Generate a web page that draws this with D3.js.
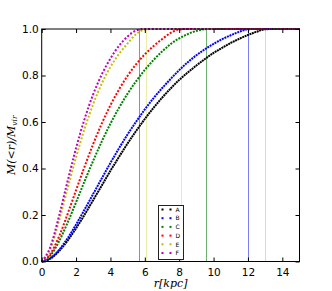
<!DOCTYPE html>
<html><head><meta charset="utf-8">
<script src="https://cdn.jsdelivr.net/npm/d3@7"></script>
<style>body{margin:0;background:#fff}svg{display:block}</style>
</head><body>
<script>
// radius grid (kpc)
const radii = [0,0.5,1,1.5,2,2.5,3,3.5,4,4.5,5,5.5,6,6.5,7,7.5,8,8.5,9,9.5,10,10.5,11,11.5,12,12.5,13,13.5,14,14.5,15];
const seriesNames = ["A","B","C","D","E","F"];
const seriesColors = ["#000000","#0000ff","#008000","#ff0000","#bfbf00","#bf00bf"];
const valsA = [0,0.012,0.044,0.089,0.143,0.202,0.265,0.327,0.390,0.450,0.508,0.562,0.613,0.660,0.704,0.744,0.781,0.813,0.843,0.871,0.897,0.919,0.940,0.958,0.974,0.988,0.999,1,1,1,1];
const valsB = [0,0.014,0.049,0.099,0.159,0.224,0.291,0.358,0.424,0.487,0.547,0.602,0.654,0.702,0.745,0.785,0.823,0.857,0.887,0.913,0.936,0.956,0.973,0.988,0.999,1,1,1,1,1,1];
const valsC = [0,0.025,0.085,0.166,0.255,0.346,0.434,0.517,0.593,0.661,0.722,0.776,0.824,0.866,0.903,0.935,0.960,0.978,0.992,0.999,1,1,1,1,1,1,1,1,1,1,1];
const valsD = [0,0.032,0.106,0.203,0.307,0.409,0.506,0.594,0.672,0.740,0.799,0.849,0.891,0.926,0.956,0.983,0.998,1,1,1,1,1,1,1,1,1,1,1,1,1,1];
const valsE = [0,0.054,0.173,0.312,0.449,0.572,0.678,0.766,0.837,0.893,0.938,0.978,0.998,1,1,1,1,1,1,1,1,1,1,1,1,1,1,1,1,1,1];
const valsF = [0,0.062,0.193,0.344,0.488,0.614,0.720,0.805,0.873,0.928,0.968,0.994,1,1,1,1,1,1,1,1,1,1,1,1,1,1,1,1,1,1,1];
const seriesValues = [valsA,valsB,valsC,valsD,valsE,valsF];
// truncation radii (vertical lines)
const cutRadii = [12.97,11.98,9.54,8.08,6.09,5.68];
const cutColors = ["#d8d8d8","#7c7cf4","#70b070","#ffd8d8","#eeeeaa","#cc66dd"];
const xTicks = [0,2,4,6,8,10,12,14];
const yTicks = [0,0.2,0.4,0.6,0.8,1.0];

const W=332,H=291;
const L=41.7,R=299.5,T=29,B=261.5;
const svg=d3.select("body").append("svg").attr("width",W).attr("height",H);
const x=d3.scaleLinear().domain([0,15]).range([L,R]);
const y=d3.scaleLinear().domain([0,1]).range([B,T]);

// vertical lines
svg.append("g").selectAll("line").data(cutRadii).join("line")
  .attr("x1",d=>Math.round(x(d))+0.5).attr("x2",d=>Math.round(x(d))+0.5)
  .attr("y1",T).attr("y2",B)
  .attr("stroke",(d,i)=>cutColors[i]).attr("stroke-width",1);

// curves (dotted)
const dashes=["2,0.6","2,0.8","2,1.2","2,1.6","2,1.8","2,1.8"];
const line=d3.line().x((d,i)=>x(radii[i])).y(d=>y(d)).curve(d3.curveMonotoneX);
seriesValues.forEach((vals,k)=>{
  svg.append("path").datum(vals).attr("d",line)
    .attr("fill","none").attr("stroke",seriesColors[k]).attr("stroke-width",2)
    .attr("stroke-dasharray",dashes[k]);
});

// frame
svg.append("rect").attr("x",L).attr("y",T).attr("width",R-L).attr("height",B-T)
  .attr("fill","none").attr("stroke","#000").attr("stroke-width",1);

// axes with inward ticks
const fs="10.5px";
const gx=svg.append("g").attr("transform",`translate(0,${B})`)
  .call(d3.axisBottom(x).tickValues(xTicks).tickFormat(d3.format("d")).tickSizeInner(-4).tickSizeOuter(0).tickPadding(7));
const gxt=svg.append("g").attr("transform",`translate(0,${T})`)
  .call(d3.axisTop(x).tickValues(xTicks).tickFormat("").tickSizeInner(-4).tickSizeOuter(0));
const gy=svg.append("g").attr("transform",`translate(${L},0)`)
  .call(d3.axisLeft(y).tickValues(yTicks).tickFormat(d3.format(".1f")).tickSizeInner(-4).tickSizeOuter(0).tickPadding(3));
const gyr=svg.append("g").attr("transform",`translate(${R},0)`)
  .call(d3.axisRight(y).tickValues(yTicks).tickFormat("").tickSizeInner(-4).tickSizeOuter(0));
[gx,gxt,gy,gyr].forEach(g=>{
  g.select(".domain").remove();
  g.selectAll("text").attr("font-family","DejaVu Sans").attr("font-size",fs).attr("fill","#000");
  g.selectAll("line").attr("stroke","#000");
});

// axis labels
svg.append("text").attr("x",(L+R)/2).attr("y",287).attr("text-anchor","middle")
  .attr("font-family","DejaVu Serif").attr("font-style","italic").attr("font-size","11px")
  .text("r[kpc]");
const yl=svg.append("text").attr("transform",`translate(15,${(T+B)/2}) rotate(-90)`)
  .attr("text-anchor","middle").attr("font-family","DejaVu Serif").attr("font-style","italic").attr("font-size","11px");
yl.append("tspan").text("M(<r)/M");
yl.append("tspan").attr("font-size","7.5px").attr("dy",2).text("vir");

// legend
const lg=svg.append("g");
lg.append("rect").attr("x",158.5).attr("y",205.5).attr("width",25).attr("height",54)
  .attr("fill","#fff").attr("stroke","#222").attr("stroke-width",1);
seriesNames.forEach((n,i)=>{
  const yy=209.5+i*8.7;
  [162.5,170.5].forEach(xx=>lg.append("rect").attr("x",xx-1).attr("y",yy-1).attr("width",2).attr("height",2).attr("fill",seriesColors[i]));
  lg.append("text").attr("x",175.5).attr("y",yy+2.2).attr("font-family","DejaVu Sans").attr("font-size","6px").attr("fill","#000").text(n);
});
</script>
</body></html>
